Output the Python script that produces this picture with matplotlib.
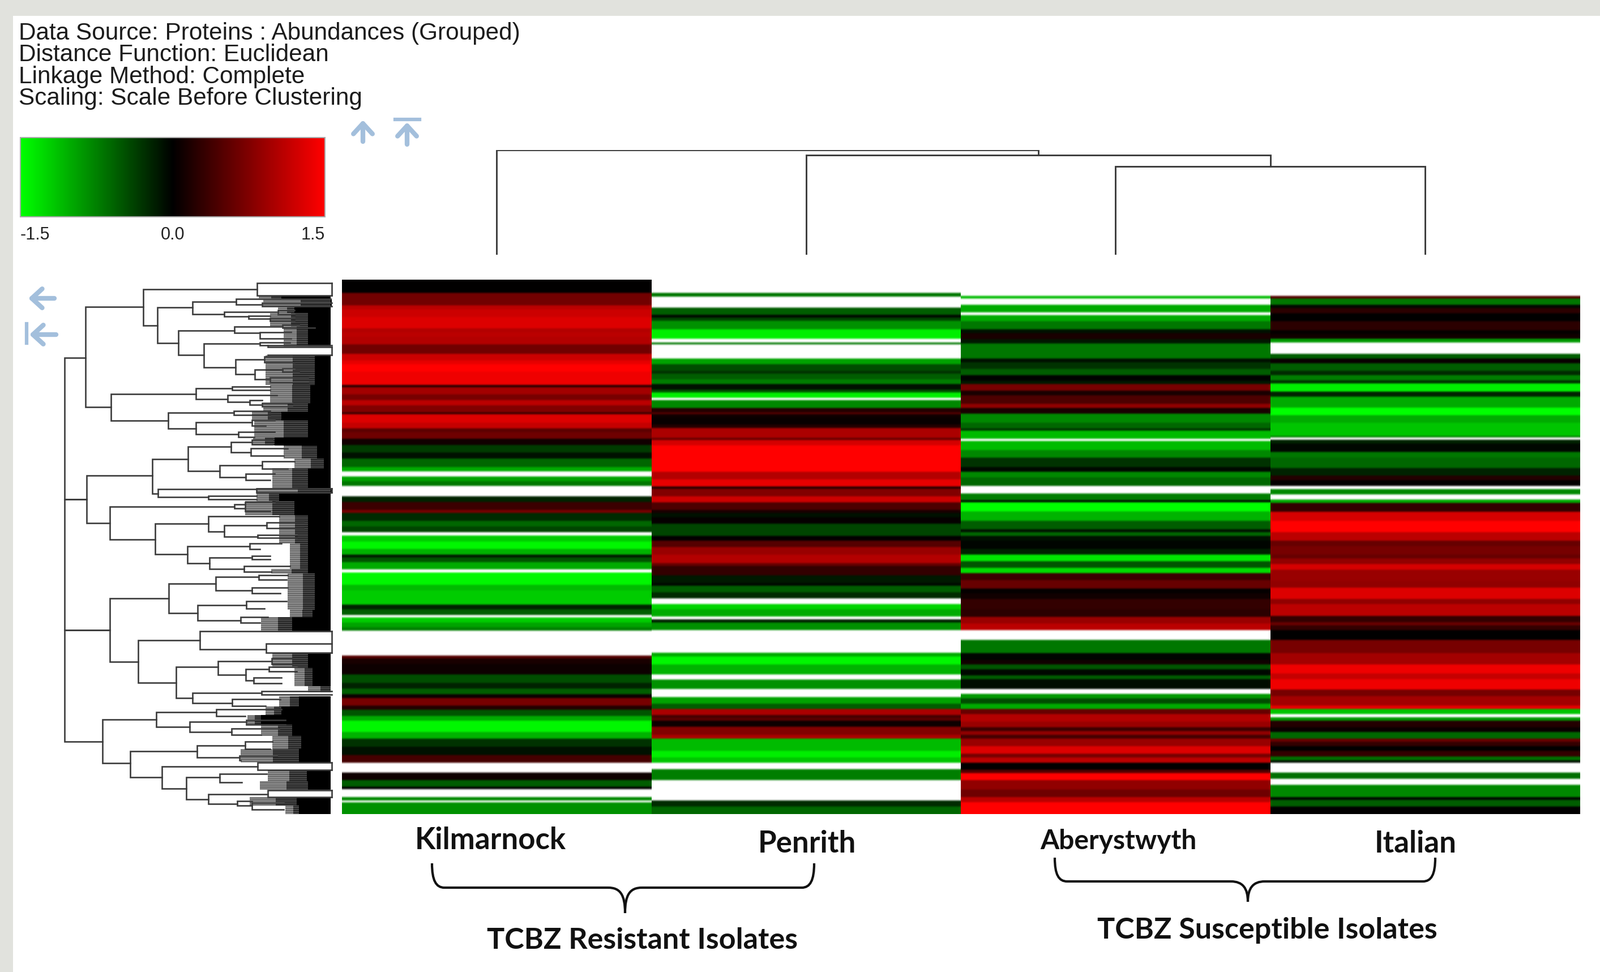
import numpy as np
import matplotlib
matplotlib.use('Agg')
import matplotlib.pyplot as plt
from matplotlib.colors import LinearSegmentedColormap, Normalize
from matplotlib.path import Path
from matplotlib.patches import PathPatch, Rectangle

W, H = 2826, 1717
nan = float('nan')

columns = ['Kilmarnock', 'Penrith', 'Aberystwyth', 'Italian']

# band edges (row position) and z-score of every band, one pair per isolate
kil_edges = [42, 112, 178, 200, 240, 300, 320, 345, 385, 435, 470, 490, 530, 600, 612, 650, 680, 708, 745, 755, 800,
             830, 850, 885, 918, 958, 990, 1035, 1058, 1085, 1110, 1135, 1190, 1220, 1262, 1278, 1320, 1350, 1380,
             1398, 1430, 1470, 1500, 1515, 1540, 1578, 1595, 1660, 1690, 1765, 1790, 1820, 1833, 1860, 1885, 1903,
             2035, 2050, 2080, 2135, 2180, 2210, 2240, 2260, 2300, 2322, 2355, 2380, 2440, 2475, 2518, 2562, 2603,
             2655, 2695, 2730, 2743, 2785, 2803, 2813, 2875]
kil_vals = [0, .66, 1.1, 1.2, 1.3, 1.05, 1.1, 1.05, .66, 1.2, 1.35, 1.5, 1.4, .2, .95, .7, 1.1, .75, .3, 1.3,
            1.15, .55, .65, .1, -.35, -.1, -.6, -1, nan, -.95, -.7, nan, -.2, .35, .7, -.25, -.6, -.4,
            nan, -1.2, -1.45, -1.05, -.15, -.5, -1, nan, -1.45, -1.1, -1.2, -.2, -.55, nan, -1.2, -.95, -.75,
            nan, .5, .15, .08, -.45, -.2, -.55, .07, .7, .2, -.5, -1, -1.45, -1.05, -.3, -.1, .4,
            nan, .08, -.55, 0, nan, -.8, nan, -.85]

pen_edges = [42, 112, 132, 190, 228, 243, 260, 305, 355, 375, 385, 460, 490, 525, 540, 570, 595, 625, 640, 668, 680,
             722, 745, 755, 770, 810, 828, 880, 892, 920, 1060, 1100, 1138, 1150, 1190, 1222, 1262, 1278, 1302, 1335,
             1400, 1425, 1460, 1500, 1545, 1560, 1610, 1650, 1665, 1700, 1732, 1762, 1790, 1828, 1843, 1860, 1900,
             2020, 2040, 2082, 2135, 2162, 2212, 2255, 2290, 2318, 2350, 2365, 2380, 2412, 2455, 2475, 2540, 2575,
             2603, 2637, 2695, 2803, 2835, 2875]
pen_vals = [nan, -.7, nan, -.55, -.05, -.4, -.85, -1.4, nan, -.7, nan, -.95, -.45, -.3, -.55, -.75, -.1, -.5, -1.4,
            nan, -.8, .2, .5, .1, .05, .2, 1, .6, 1.25, 1.5, 1.05, 1.35, .2, .75, 1.2, .45, .15, -.1, .03,
            -.4, .02, .5, .9, 1.05, .6, .3, -.15, -.05, -.55, -.25, nan, -1.25, -1, nan, -.2, -.85,
            nan, -1, -1.45, -1.05, nan, -.85, nan, -.95, -.55, 1, .4, .55, .08, .75, 1, -1.1, -1.4, -1.15,
            nan, -.75, nan, -.25, -.6]

abe_edges = [42, 128, 142, 175, 215, 230, 262, 305, 325, 358, 380, 460, 480, 515, 548, 578, 595, 630, 655, 700, 722,
             752, 800, 830, 842, 885, 897, 945, 985, 1035, 1060, 1090, 1135, 1175, 1210, 1222, 1270, 1320, 1365, 1380,
             1400, 1425, 1470, 1500, 1535, 1570, 1598, 1635, 1680, 1705, 1735, 1790, 1830, 1865, 1900, 1952, 2022,
             2058, 2082, 2108, 2140, 2160, 2212, 2238, 2262, 2290, 2318, 2345, 2385, 2415, 2435, 2455, 2475, 2515,
             2555, 2575, 2603, 2640, 2658, 2695, 2745, 2785, 2812, 2875]
abe_vals = [nan, -1.1, nan, -1, nan, -1, -.7, -.1, .15, -.15, -.7, -.1, -.3, -.55, -.02, -.15, .7, .15, .45, .85,
            .15, -.8, -.6, -.3, -1.1, nan, -1.1, -.8, -.3, -.05, -.8, -.6, nan, -.75, -.1, -1.5, -1.05, -.55, -.1,
            -.6, -.1, -.03, -.2, -1.35, -.5, -1.3, .35, .6, .03, .1, .3, .25, .9, 1.1, nan, -.7,
            -.03, .1, -.5, -.05, -.55, -.08, nan, -.9, -.45, -1, .6, 1.05, .9, .35, .85, .4, .9,
            1.3, .7, 1.1, 0, .5, 1.5, .85, .65, 1.1, 1.5]

ita_edges = [42, 128, 142, 175, 192, 220, 262, 310, 330, 355, 375, 435, 460, 485, 525, 548, 575, 592, 635, 662, 720,
             760, 800, 870, 878, 890, 910, 955, 985, 1040, 1080, 1105, 1135, 1152, 1180, 1207, 1225, 1272, 1320, 1380,
             1425, 1455, 1500, 1520, 1550, 1580, 1640, 1675, 1735, 1762, 1825, 1858, 1875, 1900, 1952, 2022, 2082,
             2130, 2160, 2215, 2250, 2300, 2318, 2345, 2362, 2380, 2415, 2440, 2475, 2492, 2515, 2540, 2570, 2590,
             2603, 2655, 2688, 2720, 2785, 2800, 2835, 2875]
ita_vals = [nan, .5, -.7, -.05, .25, 0, .25, .03, .1, -.9, nan, -.55, .05, -.55, -.25, -.75, -.3, -1.4, -.2, -1,
            -1.5, -1, -1.15, -.7, nan, -.2, -.05, -.7, -.6, -.2, .2, .02, nan, -.8, nan, -1, .3, 1.25, 1.5,
            1.1, .6, .7, .6, .85, 1.25, .9, .85, 1.3, .85, 1.1, .3, .6, .3, 0, .7, .95,
            1.4, 1.15, 1.4, .7, .95, 1.35, -1.15, nan, -.9, .2, .05, -.6, .6, .3, 0, .3, -.65, -.1,
            nan, -.65, nan, -.8, -.05, -.55, 0]

# row dendrogram: node position, then upper branch (row, end) and lower branch (row, end)
row_nodes = [
    (213, 455, 305, 1205, 310), (213, 1205, 310, 1900, 415), (213, 1900, 415, 2490, 382),
    (305, 185, 565, 718, 420), (565, 92, 1072, 285, 628), (1072, 60, 1405, 125, 1405), (1405, 60, 1405, 125, 1405),
    (628, 190, 785, 378, 720), (785, 160, 980, 225, 925), (980, 143, 1400, 175, 1095), (1095, 165, 1405, 182, 1405),
    (925, 212, 1165, 238, 1035), (1165, 205, 1240, 225, 1240), (1035, 235, 1130, 250, 1130), (1130, 245, 1240, 262, 1240),
    (720, 312, 970, 440, 835), (970, 290, 1185, 325, 1085), (1185, 283, 1260, 298, 1330), (1085, 322, 1225, 355, 1225),
    (835, 380, 1085, 507, 975), (1085, 375, 1220, 390, 1120), (1120, 390, 1405, 398, 1405),
    (1405, 398, 1405, 442, 1405), (1120, 442, 1405, 442, 1120), (975, 465, 1105, 543, 1062), (1105, 450, 1300, 480, 1240),
    (1062, 520, 1185, 570, 1130), (1185, 512, 1240, 530, 1260), (1130, 562, 1300, 585, 1300),
    (420, 648, 800, 790, 675), (800, 618, 960, 675, 940), (960, 608, 1130, 628, 1130), (940, 655, 1160, 690, 1040),
    (1040, 682, 1095, 705, 1095), (1095, 695, 1230, 715, 1230), (675, 748, 968, 830, 800), (968, 738, 1130, 758, 1130),
    (800, 798, 1050, 860, 988), (1050, 785, 1150, 815, 1110), (988, 848, 1150, 875, 1060),
    (310, 1080, 605, 1332, 415), (605, 992, 765, 1175, 630), (765, 928, 955, 1055, 905), (955, 902, 1050, 958, 1045),
    (1045, 935, 1210, 975, 1190), (1050, 890, 1140, 915, 1140), (905, 1025, 1095, 1090, 1022),
    (1095, 1005, 1240, 1045, 1210), (1022, 1070, 1150, 1105, 1130), (630, 1152, 1070, 1195, 855),
    (1070, 1148, 1405, 1170, 1405), (1405, 1148, 1405, 1170, 1405), (855, 1187, 1070, 1205, 1070),
    (415, 1245, 970, 1418, 618), (970, 1232, 1020, 1255, 1020), (1020, 1222, 1150, 1268, 1130),
    (618, 1335, 855, 1498, 762), (855, 1295, 1170, 1378, 925), (925, 1345, 1115, 1403, 1075),
    (1115, 1330, 1280, 1360, 1280), (1075, 1395, 1250, 1410, 1250), (762, 1455, 1040, 1545, 860),
    (1040, 1440, 1180, 1470, 1085), (860, 1515, 1050, 1575, 1015), (1050, 1505, 1130, 1525, 1130),
    (1015, 1560, 1220, 1590, 1135),
    (415, 1730, 678, 2068, 540), (678, 1652, 888, 1808, 808), (888, 1618, 1080, 1688, 1050),
    (1080, 1608, 1210, 1632, 1205), (1050, 1675, 1210, 1705, 1175), (808, 1768, 1025, 1848, 998),
    (1025, 1745, 1205, 1785, 1105), (998, 1830, 1120, 1860, 1085), (540, 1953, 818, 2178, 710),
    (818, 1905, 1405, 2000, 1112), (1112, 1970, 1405, 2020, 1405), (1405, 1905, 1405, 2020, 1405),
    (710, 2095, 898, 2260, 785), (898, 2065, 1138, 2135, 1022), (1138, 2050, 1230, 2080, 1230),
    (1022, 2105, 1125, 2165, 1058), (1125, 2095, 1250, 2118, 1250), (1058, 2150, 1180, 2182, 1180),
    (785, 2232, 1092, 2285, 960), (1092, 2222, 1405, 2240, 1405), (960, 2265, 1175, 2300, 1110),
    (382, 2372, 622, 2605, 505), (622, 2335, 890, 2412, 772), (890, 2320, 1180, 2355, 1020),
    (772, 2385, 1025, 2438, 958), (1025, 2375, 1200, 2400, 1200), (958, 2420, 1170, 2455, 1090),
    (505, 2540, 805, 2680, 648), (805, 2512, 1020, 2575, 995), (1020, 2490, 1140, 2530, 1130),
    (995, 2565, 1160, 2590, 1000), (648, 2622, 1075, 2740, 755), (1075, 2602, 1405, 2640, 1405),
    (1405, 2602, 1405, 2640, 1405), (755, 2680, 905, 2795, 855), (905, 2660, 1115, 2705, 1005),
    (855, 2770, 1120, 2820, 985), (1120, 2748, 1405, 2785, 1405), (1405, 2748, 1405, 2785, 1405),
    (985, 2805, 1050, 2830, 1050), (1050, 2815, 1190, 2850, 1190),
]

# leaf end of the row dendrogram: band edges, start of the grey branches, start of solid black
leaf_edges = [125, 145, 182, 220, 290, 395, 445, 600, 700, 740, 790, 880, 920, 990, 1040, 1145, 1175, 1215, 1290,
              1440, 1575, 1600, 1790, 1830, 1905, 2023, 2100, 2195, 2228, 2250, 2305, 2350, 2400, 2460, 2530,
              2600, 2640, 2700, 2745, 2785, 2830, 2875]
leaf_grey = [1080, 1100, 1165, 1130, 1190, nan, 1110, 1130, 1100, 1050, 1060, 1055, 1190, 1240, 1140, 1070, 1070, 1020,
             1170, 1220, 1135, 1210, 1220, 1090, nan, 1140, 1240, 1300, nan, 1170, 1110, 1030, 1090, 1140, 1000,
             nan, 1120, 1085, nan, 1040, 1200]
leaf_black = [1180, 1405, 1240, 1300, 1300, nan, 1330, 1310, 1300, 1180, 1300, 1150, 1340, 1370, 1300, 1405, 1170,
              1240, 1300, 1300, 1300, 1330, 1320, 1230, nan, 1300, 1320, 1400, nan, 1260, 1180, 1090, 1230, 1270,
              1260, nan, 1295, 1300, nan, 1250, 1260]

# column dendrogram: merge height and the two branches
col_merges = [(156, 2.5, 0, 3.5, 0), (176, 1.5, 0, 3.0, 156), (185, 0.5, 0, 2.25, 176)]

cbar_ticks = [-1.5, 0.0, 1.5]
cbar_labels = ['-1.5', '0.0', '1.5']
info_lines = ['Data Source: Proteins : Abundances (Grouped)', 'Distance Function: Euclidean',
              'Linkage Method: Complete', 'Scaling: Scale Before Clustering']
groups = ['TCBZ Resistant Isolates', 'TCBZ Susceptible Isolates']

FRAME = '#e1e2dd'
ARROW = '#a3bfdc'
LINE = '#3c3c3c'


def px_axes(fig, left, top, right, bottom):
    return fig.add_axes([left / W, 1 - bottom / H, (right - left) / W, (bottom - top) / H])


def soften(rgba):
    # the picture is a scaled-up screenshot, bands run into each other
    win = np.hanning(23)
    win = win / win.sum()
    pad = np.pad(rgba[:, 0, :], ((11, 11), (0, 0)), mode='edge')
    out = np.stack([np.convolve(pad[:, c], win, mode='valid') for c in range(4)], axis=1)
    return out[:, None, :]


def draw_heatmap(ax, cmap, norm):
    series = [(kil_edges, kil_vals), (pen_edges, pen_vals), (abe_edges, abe_vals), (ita_edges, ita_vals)]
    for i, (edges, vals) in enumerate(series):
        col = np.repeat(vals, np.diff(edges))[:, None]
        rgba = soften(cmap(norm(np.ma.masked_invalid(col))))
        ax.imshow(rgba, extent=(i, i + 1, edges[-1], edges[0]), aspect='auto', interpolation='nearest')
    ax.set_xlim(0, 4)
    ax.set_ylim(2875, 42)
    ax.axis('off')


def draw_row_tree(ax):
    for x, y1, x1, y2, x2 in row_nodes:
        ax.plot([x1, x, x, x2], [y1, y1, y2, y2], color=LINE, lw=1.9, solid_joinstyle='miter')
    # плотные листья: светлые полосы, ближе к краю темнее, потом сплошной чёрный
    y = np.repeat(leaf_edges, 2)[1:-1]
    grey = np.repeat(leaf_grey, 2)
    black = np.repeat(leaf_black, 2)
    mid = black - 0.45 * (black - grey)
    plt.rcParams['hatch.linewidth'] = 2.0
    ax.fill_betweenx(y, grey, mid, facecolor='#ededed', edgecolor='#666666', hatch='-----', lw=0)
    ax.fill_betweenx(y, mid, black, facecolor='#a0a0a0', edgecolor='#222222', hatch='-----', lw=0)
    ax.fill_betweenx(y, black, 1402, facecolor='black', lw=0)
    ax.set_xlim(0, 1568)
    ax.set_ylim(3000, 0)
    ax.axis('off')


def draw_col_tree(ax):
    for h, x1, h1, x2, h2 in col_merges:
        ax.plot([x1, x1, x2, x2], [h1, h, h, h2], color=LINE, lw=2.1, solid_joinstyle='miter')
    ax.set_xlim(0, 4)
    ax.set_ylim(0, 185)
    ax.axis('off')


def brace(ax, x0, xm, x1, top, flat, tip):
    verts = [(x0, top), (x0, top + 30), (x0 + 7, flat), (x0 + 22, flat), (xm - 30, flat),
             (xm - 9, flat), (xm, flat + 12), (xm, tip), (xm, flat + 12), (xm + 9, flat), (xm + 30, flat),
             (x1 - 22, flat), (x1 - 7, flat), (x1, top + 30), (x1, top)]
    codes = [Path.MOVETO, Path.CURVE4, Path.CURVE4, Path.CURVE4, Path.LINETO,
             Path.CURVE4, Path.CURVE4, Path.CURVE4, Path.CURVE4, Path.CURVE4, Path.CURVE4,
             Path.LINETO, Path.CURVE4, Path.CURVE4, Path.CURVE4]
    ax.add_patch(PathPatch(Path(verts, codes), fc='none', ec='#111111', lw=3))


def arrow(ax, start, end):
    ax.annotate('', xy=end, xytext=start,
                arrowprops=dict(arrowstyle='->,head_length=0.6,head_width=0.55', color=ARROW, lw=6,
                                shrinkA=0, shrinkB=0, mutation_scale=22))


def main():
    fig = plt.figure(figsize=(W / 100, H / 100), dpi=100, facecolor=FRAME)

    cmap = LinearSegmentedColormap.from_list('gkr', ['#00ff00', '#000000', '#ff0000'], N=256)
    cmap.set_bad('white')
    norm = Normalize(-1.5, 1.5)

    page = fig.add_axes([0, 0, 1, 1])
    page.set_xlim(0, W)
    page.set_ylim(H, 0)
    page.axis('off')
    page.add_patch(Rectangle((23, 28), W - 23, H - 28, fc='white', ec='none'))

    draw_heatmap(px_axes(fig, 604, 494, 2790, 1438), cmap, norm)
    tree_ax = px_axes(fig, 30, 480, 650, 1480)
    tree_ax.patch.set_alpha(0)
    draw_row_tree(tree_ax)
    top_ax = px_axes(fig, 604, 265, 2790, 450)
    top_ax.patch.set_alpha(0)
    draw_col_tree(top_ax)

    # colour key
    cax = px_axes(fig, 36, 243, 574, 383)
    cb = fig.colorbar(plt.cm.ScalarMappable(norm=norm, cmap=cmap), cax=cax, orientation='horizontal',
                      ticks=cbar_ticks)
    cb.outline.set_edgecolor('#aaaaaa')
    cb.outline.set_linewidth(1.5)
    cax.tick_params(length=0, pad=12, labelsize=22, labelcolor='#222222')
    cax.set_xticklabels(cbar_labels, family='Liberation Sans')
    for lab, ha in zip(cax.get_xticklabels(), ['left', 'center', 'right']):
        lab.set_ha(ha)

    for i, line in enumerate(info_lines):
        page.text(33, 70 + i * 38.3, line, family='Liberation Sans', fontsize=30.4, color='#1c1c1c', va='baseline')

    arrow(page, (641, 250), (641, 212))
    arrow(page, (719, 255), (719, 216))
    page.plot([698, 741], [211, 211], color=ARROW, lw=4.5)
    arrow(page, (96, 527), (50, 527))
    arrow(page, (99, 591), (52, 591))
    page.plot([47, 47], [572, 606], color=ARROW, lw=4.5)

    font = dict(family='Lato', weight='bold', color='#111111', ha='center', va='baseline')
    for name, x, y, size in zip(columns, [866, 1425, 1975, 2500], [1500, 1506, 1500, 1506], [38, 38, 34.5, 38]):
        page.text(x, y, name, fontsize=size, **font)
    page.text(1134, 1676, groups[0], fontsize=37.5, **font)
    page.text(2238, 1658, groups[1], fontsize=37.5, **font)
    brace(page, 763, 1104, 1438, 1525, 1568, 1613)
    brace(page, 1863, 2204, 2535, 1515, 1557, 1593)

    fig.savefig('out.png', dpi=100, facecolor=FRAME)


if __name__ == '__main__':
    main()
